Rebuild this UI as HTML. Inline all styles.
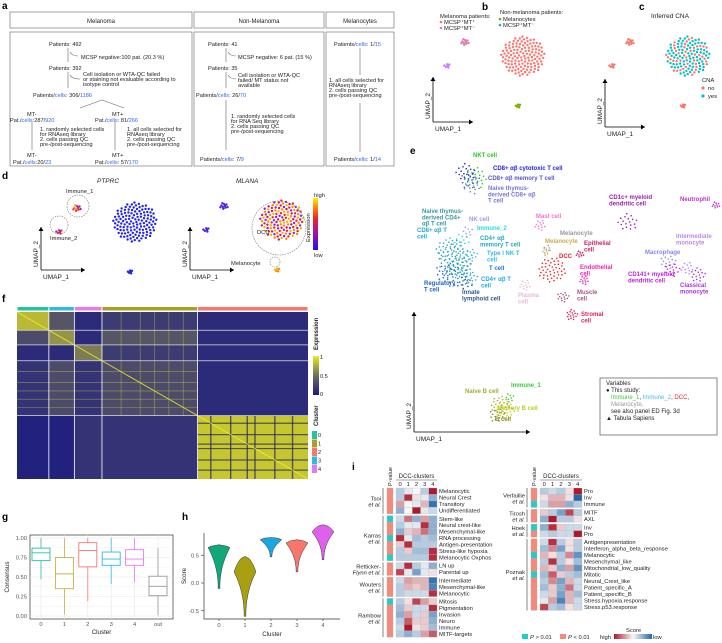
<!DOCTYPE html>
<html><head><meta charset="utf-8">
<style>
html,body{margin:0;padding:0;background:#fff;}
svg{display:block;font-family:"Liberation Sans",Arial,sans-serif;}
.pl{font-weight:bold;font-size:10px;}
.t{font-size:5.6px;fill:#222;}
.b{fill:#3366ee;}
</style></head>
<body>
<svg id="fig" width="722" height="643" viewBox="0 0 722 643" xmlns="http://www.w3.org/2000/svg">
<text class="pl" x="2" y="9">a</text>
<text class="pl" x="482" y="10">b</text>
<text class="pl" x="639" y="10">c</text>
<text class="pl" x="2" y="179">d</text>
<text class="pl" x="410" y="154">e</text>
<text class="pl" x="2" y="302">f</text>
<text class="pl" x="2" y="520">g</text>
<text class="pl" x="182" y="520">h</text>
<text class="pl" x="352" y="470">i</text>

<g fill="none" stroke="#666" stroke-width="0.6">
<rect x="10" y="12" width="182" height="16"/><rect x="194" y="12" width="130" height="16"/><rect x="326" y="12" width="68" height="16"/>
<rect x="10" y="32" width="182" height="134"/><rect x="194" y="32" width="130" height="134"/><rect x="326" y="32" width="68" height="134"/>
<path d="M68 48 V62 M68 72 V88 M102 100 L80 108 M102 100 L124 108 M32 122 V150 M115 122 V150 M226 48 V62 M226 72 V88 M226 100 V150 M360 48 V75 M360 103 V152"/>
<path d="M70 52 Q72 56 78 56 M70 75 Q72 79 80 79 M228 52 Q230 56 236 56 M228 75 Q230 79 236 79"/>
</g>
<g class="t">
<text x="101" y="23" font-size="6" text-anchor="middle">Melanoma</text>
<text x="259" y="23" font-size="6" text-anchor="middle">Non-Melanoma</text>
<text x="360" y="23" font-size="6" text-anchor="middle">Melanocytes</text>
<text x="49" y="46">Patients: 492</text>
<text x="81" y="59">MCSP negative:100 pat. (20.3 %)</text>
<text x="49" y="70">Patients: 392</text>
<text x="83" y="76">Cell isolation or WTA-QC failed</text>
<text x="83" y="81">or staining not evaluable according to</text>
<text x="83" y="86">isotype control</text>
<text x="33" y="97">Patients/<tspan class="b">cells</tspan>: 306/<tspan class="b">1186</tspan></text>
<text x="27" y="116">MT-</text><text x="10" y="122">Pat./<tspan class="b">cells</tspan>:287/<tspan class="b">920</tspan></text>
<text x="112" y="116">MT+</text><text x="95" y="122">Pat./<tspan class="b">cells</tspan>: 81/<tspan class="b">266</tspan></text>
<text x="40" y="131">1. randomly selected cells</text><text x="40" y="136">for RNAseq library</text><text x="40" y="141">2. cells passing QC</text><text x="40" y="146">pre-/post-sequencing</text>
<text x="127" y="131">1. all cells selected for</text><text x="127" y="136">RNAseq library</text><text x="127" y="141">2. cells passing QC</text><text x="127" y="146">pre-/post-sequencing</text>
<text x="27" y="157">MT-</text><text x="13" y="164">Pat./<tspan class="b">cells</tspan>:20/<tspan class="b">23</tspan></text>
<text x="112" y="157">MT+</text><text x="95" y="164">Pat./<tspan class="b">cells</tspan>: 57/<tspan class="b">170</tspan></text>
<text x="208" y="46">Patients: 41</text>
<text x="238" y="59">MCSP negative: 6 pat. (15 %)</text>
<text x="208" y="70">Patients: 35</text>
<text x="238" y="77">Cell isolation or WTA-QC</text><text x="238" y="82">failed/ MT status not</text><text x="238" y="87">available</text>
<text x="196" y="97">Patients/<tspan class="b">cells</tspan>: 26/<tspan class="b">70</tspan></text>
<text x="231" y="118">1. randomly selected cells</text><text x="231" y="123">for RNA Seq library</text><text x="231" y="128">2. cells passing QC</text><text x="231" y="133">pre-/post-sequencing</text>
<text x="200" y="161">Patients/<tspan class="b">cells</tspan>: 7/<tspan class="b">9</tspan></text>
<text x="334" y="46">Patients/<tspan class="b">cells</tspan>: 1/<tspan class="b">15</tspan></text>
<text x="329" y="82">1. all cells selected for</text><text x="329" y="87">RNAseq library</text><text x="329" y="92">2. cells passing QC</text><text x="329" y="97">pre-/post-sequencing</text>
<text x="334" y="161">Patients/<tspan class="b">cells</tspan>: 1/<tspan class="b">14</tspan></text>
</g>
<g id="dyn"></g>
</svg>
<script>
const umapClusters=[["main",0,0,22,130],["immune1",-58,-14,4,10],["immune2",-76,10,3,6],["melanocyte",-5,50,2.5,6]];
const colorsB=[["#f8766d"],["#f8766d","#c77cff"],["#c77cff"],["#7cae00"]];
const colorsC=[["#00bfc4","#f8766d","#00bfc4"],["#f8766d"],["#f8766d"],["#f8766d"]];
const colorsPTPRC=[["#2222ee"],["#ee3333","#ff9922","#9922cc"],["#9922cc","#ee3333"],["#2222ee"]];
const colorsMLANA=[["#ee2222","#ff8800","#8822cc","#ffaa00","#cc1166"],["#5522dd"],["#5522dd"],["#ffbb00","#ff8800"]];
const gCats=["0","1","2","3","4","out"];
const gMin=[0.47,0.02,0.19,0.41,0.43,0.01];
const gQ1=[0.71,0.35,0.63,0.65,0.65,0.26];
const gMed=[0.81,0.54,0.84,0.73,0.73,0.38];
const gQ3=[0.87,0.75,0.94,0.82,0.85,0.51];
const gMax=[1.0,1.0,1.0,1.0,1.0,0.87];
const gTicks=[0,0.25,0.5,0.75,1.0];
const gTickLabels=["0.00","0.25","0.50","0.75","1.00"];
const hCats=["0","1","2","3","4"];
const hMin=[-0.1,-0.6,0.47,0.2,0.42];
const hMax=[0.69,0.48,0.82,0.78,1.05];
const hMode=[0.64,0.2,0.78,0.72,0.92];
const hTicks=[-0.5,0,0.5];
const fOrder=["0","3","4","1","2"];
const fSizes=[15,12,13,45,52];
const fBlock=[[0.8,0.35,0.1,0.2,0.1],[0.3,0.65,0.1,0.35,0.1],[0.1,0.1,0.55,0.2,0.1],[0.15,0.3,0.15,0.3,0.1],[0.05,0.05,0.15,0.15,0.85]];
const iLeftGroups=["Tsoi|et al.","Karras|et al.","Retticker-|Flynn et al.","Wouters|et al.","Rambow|et al."];
const iLeftGroupSizes=[4,7,2,3,6];
const iLeftRows=["Melanocytic","Neural Crest","Transitory","Undifferentiated","Stem-like","Neural crest-like","Mesenchymal-like","RNA processing","Antigen-presentation","Stress-like hypoxia","Melanocytic Oxphos","LN up","Parental up","Intermediate","Mesenchymal-like","Melanocytic","Mitosis","Pigmentation","Invasion","Neuro","Immune","MITF-targets"];
const iLeftVals=[[-0.3,-0.1,0,-0.3,1],[-0.3,0.9,0.1,-0.1,-0.5],[0.4,0,-0.1,0.3,-0.9],[-0.5,0,1,-0.1,-0.2],[-0.2,0.6,-0.5,0.4,-0.5],[-0.3,-0.1,-0.1,0.9,-0.5],[-0.5,0.2,0.3,0.6,-0.5],[0.9,-0.1,-0.4,-0.3,-0.4],[0.2,0.9,-0.3,-0.3,-0.3],[-0.3,0.2,-0.4,-0.4,0.9],[-0.3,-0.3,-0.3,-0.3,0.9],[-0.2,0.9,-0.3,-0.1,-0.5],[0.8,-0.1,-0.6,-0.1,0.1],[-0.2,0.4,0.3,0.3,-0.9],[-0.3,0.3,0.2,0.3,-0.8],[-0.3,-0.2,-0.2,-0.2,0.9],[-0.3,0.1,0.8,0.4,0.2],[-0.4,0.2,-0.2,-0.2,0.9],[-0.5,0.4,-0.2,0.2,-0.6],[-0.3,0.7,0.2,0.2,-0.5],[-0.2,1,0.1,0.2,-0.4],[-0.3,-0.5,-0.3,0.4,0.7]];
const iLeftP=[0,0,0,0,1,0,0,1,0,0,1,0,0,0,0,0,1,0,0,0,0,0];
const iRightGroups=["Verfaillie|et al.","Tirosh|et al.","Hoek|et al.","Poznak|et al."];
const iRightGroupSizes=[3,2,2,11];
const iRightRows=["Pro","Inv","Immune","MITF","AXL","Inv","Pro","Antigenpresentation","Interferon_alpha_beta_response","Melanocytic","Mesenchymal_like","Mitochondrial_low_quality","Mitotic","Neural_Crest_like","Patient_specific_A","Patient_specific_B","Stress.hypoxia.response","Stress.p53.response"];
const iRightVals=[[-0.3,-0.2,-0.3,0.1,1],[0.1,0.3,0.3,0.1,-1],[-0.2,0.4,0.4,-0.5,-0.3],[0.2,-0.3,-0.6,0.8,-0.3],[-0.5,1,-0.3,-0.3,0.1],[-0.5,0.9,0.2,-0.2,-0.2],[-0.2,-0.3,-0.2,-0.2,1],[-0.2,0.9,-0.3,0.1,-0.3],[-0.4,0.5,-0.6,0.1,-0.3],[0.3,0.1,-0.3,0.5,-0.7],[-0.3,0.9,-0.3,0.1,-0.4],[0.3,0.2,-0.5,0.4,-0.7],[-0.4,0.7,0.2,-0.3,-0.4],[-0.3,0.5,-0.6,0.3,-0.2],[-0.4,0.2,-0.5,0.6,-0.2],[-0.2,0.2,-0.6,0.3,-0.4],[-0.1,0.4,-0.8,0.3,-0.2],[0.8,-0.3,-0.4,0.1,-0.2]];
const iRightP=[0,0,1,0,0,1,0,0,0,1,0,0,1,0,0,0,0,0];
const eClusters=[
 [["NKT cell"],"#22cc22",473,157,475,178,12,25],
 [["CD8+ αβ cytotoxic T cell"],"#2222dd",493,170,466,172,10,18],
 [["CD8+ αβ memory T cell"],"#5555cc",488,180,470,180,10,15],
 [["Naive thymus-","derived CD8+ αβ","T cell"],"#7777dd",488,190,472,186,9,12],
 [["Naive thymus-","derived CD4+","αβ T cell"],"#3a9a9a",422,213,455,260,18,50],
 [["NK cell"],"#9999ee",469,221,468,232,6,8],
 [["Immune_2"],"#22dddd",477,230,462,240,8,10],
 [["CD8+ αβ T","cell"],"#22aacc",417,232,450,250,14,40],
 [["CD4+ αβ","memory T cell"],"#22aabb",480,240,460,268,12,30],
 [["Type I NK T","cell"],"#33bbdd",487,255,470,255,8,15],
 [["T cell"],"#2277cc",489,270,455,275,14,30],
 [["CD4+ αβ T","cell"],"#22aadd",481,281,470,278,8,15],
 [["Regulatory","T cell"],"#2266bb",424,285,445,272,10,15],
 [["Innate","lymphoid cell"],"#335588",462,294,465,283,8,10],
 [["Mast cell"],"#ee77cc",536,218,540,225,6,12],
 [["Melanocyte"],"#999999",560,235,548,248,4,5],
 [["Melanocyte"],"#ccaa55",545,243,546,252,4,8],
 [["Epithelial","cell"],"#cc2266",584,245,580,254,4,10],
 [["DCC"],"#ee2222",559,258,552,270,14,45],
 [["Endothelial","cell"],"#ee22aa",580,269,584,280,5,12],
 [["Plasma","cell"],"#e8b8d8",518,297,525,285,6,12],
 [["Muscle","cell"],"#aa5588",577,294,563,297,6,14],
 [["Stromal","cell"],"#dd2255",581,316,572,315,6,16],
 [["CD1c+ myeloid","dendritic cell"],"#9922aa",609,199,628,222,10,18],
 [["Neutrophil"],"#bb33cc",680,201,716,205,4,10],
 [["Intermediate","monocyte"],"#bb88ee",676,238,687,268,7,12],
 [["Macrophage"],"#8888ee",645,254,668,262,8,14],
 [["CD141+ myeloid","dendritic cell"],"#bb22dd",628,276,672,270,8,14],
 [["Classical","monocyte"],"#aa33dd",680,287,698,275,8,16],
 [["Naive B cell"],"#aaaa33",465,393,500,405,10,25],
 [["Immune_1"],"#33cc33",511,387,510,398,5,8],
 [["Memory B cell"],"#bbcc22",497,410,505,410,10,25],
 [["B cell"],"#888822",495,421,497,415,8,15]];

const NS="http://www.w3.org/2000/svg";
const root=document.getElementById('dyn');
function mk(tag,attrs,parent){const e=document.createElementNS(NS,tag);for(const k in attrs)e.setAttribute(k,attrs[k]);(parent||root).appendChild(e);return e;}
function txt(s,x,y,size,fill,parent,anchor){const e=mk('text',{x:x,y:y,'font-size':size,fill:fill||'#222','text-anchor':anchor||'start'},parent);e.textContent=s;return e;}
function sunflower(cx,cy,r,n){const pts=[];for(let i=0;i<n;i++){const rr=r*Math.sqrt((i+0.5)/n);const a=i*2.39996;pts.push([cx+rr*Math.cos(a),cy+rr*Math.sin(a)*0.9]);}return pts;}
function umapArrows(g,x0,y0,w,h){
 mk('path',{d:`M${x0} ${y0} V${y0-h} M${x0} ${y0} H${x0+w}`,stroke:'#000','stroke-width':0.8,fill:'none'},g);
 mk('path',{d:`M${x0-2.5} ${y0-h+4} L${x0} ${y0-h} L${x0+2.5} ${y0-h+4}Z M${x0+w-4} ${y0-2.5} L${x0+w} ${y0} L${x0+w-4} ${y0+2.5}Z`,fill:'#000'},g);
 txt('UMAP_1',x0+2,y0+9,6.5,'#222',g);
 const t=txt('UMAP_2',0,0,6.5,'#222',g);t.setAttribute('transform',`translate(${x0-3},${y0-3}) rotate(-90)`);
}
function drawUmap(name,ox,oy,cols){
 const g=mk('g',{});
 
 
 umapClusters.forEach((c,ci)=>{
  const pts=sunflower(ox+c[1],oy+c[2],c[3],c[4]);
  pts.forEach((p,pi)=>{const cl=cols[ci];const d=mk('circle',{cx:p[0].toFixed(1),cy:p[1].toFixed(1),r:1.2,fill:cl[pi%cl.length]},g);
   
   });
 });
 return g;
}

let gb=drawUmap('umap-panel-b',523,56,colorsB);
umapArrows(gb,433,122,40,45);
txt('Melanoma patients:',440,18,5.8,'#222',gb);txt('Non-melanoma patients:',500,14,5.8,'#222',gb);
[['MCSP⁺MT⁺','#f8766d',444,24],['MCSP⁺MT⁻','#c77cff',444,30],['Melanocytes','#7cae00',503,21],['MCSP⁺MT⁻','#00bfc4',503,27]].forEach(l=>{
 const c=mk('circle',{cx:l[2]-3,cy:l[3]-2,r:1.3,fill:l[1]},gb);
 
 
 txt(l[0],l[2],l[3],5.8,'#222',gb);});

let gc=drawUmap('umap-panel-c',688,56,colorsC);
umapArrows(gc,605,127,40,48);
txt('Inferred CNA',651,18,6.5,'#222',gc);
txt('CNA',702,82,5.8,'#222',gc);
[['no','#f8766d',708,90],['yes','#00bfc4',708,98]].forEach(l=>{const c=mk('circle',{cx:703,cy:l[3]-2,r:1.6,fill:l[1]},gc);
 
 
 txt(l[0],l[2],l[3],5.8,'#222',gc);});

let gd1=drawUmap('umap-ptprc',135,222,colorsPTPRC);
umapArrows(gd1,41,270,44,43);
txt('PTPRC',97,183,6.5,'#222',gd1).setAttribute('font-style','italic');
mk('circle',{cx:78,cy:206,r:11,fill:'none',stroke:'#777','stroke-dasharray':'1.5,1','stroke-width':0.6},gd1);
mk('circle',{cx:59,cy:225,r:9,fill:'none',stroke:'#777','stroke-dasharray':'1.5,1','stroke-width':0.6},gd1);
txt('Immune_1',66,193,5.8,'#222',gd1);txt('Immune_2',50,240,5.8,'#222',gd1);
let gd2=drawUmap('umap-mlana',282,220,colorsMLANA);
umapArrows(gd2,190,270,44,43);
txt('MLANA',236,183,6.5,'#222',gd2).setAttribute('font-style','italic');
mk('circle',{cx:279,cy:228,r:27,fill:'none',stroke:'#777','stroke-dasharray':'1.5,1','stroke-width':0.6},gd2);
mk('circle',{cx:275,cy:262,r:5,fill:'none',stroke:'#777','stroke-dasharray':'1.5,1','stroke-width':0.6},gd2);
txt('DCC',257,234,5.8,'#222',gd2);txt('Melanocyte',231,265,5.8,'#222',gd2);
const defs=mk('defs',{});
const lg=mk('linearGradient',{id:'expr',x1:0,y1:1,x2:0,y2:0},defs);
[['0','#2211ee'],['0.35','#aa11aa'],['0.6','#ee2222'],['0.85','#ff9900'],['1','#ffee00']].forEach(s=>mk('stop',{offset:s[0],'stop-color':s[1]},lg));
const eb=mk('rect',{x:313,y:198,width:5,height:52,fill:'url(#expr)'});


txt('high',314,197,5.8);txt('low',314,257,5.8);
const et=txt('Expression',0,0,5.8);et.setAttribute('transform','translate(310,242) rotate(-90)');

const ge=mk('g',{});


eClusters.forEach(c=>{
 sunflower(c[4],c[5],c[6],c[7]).forEach(p=>{const d=mk('circle',{cx:p[0].toFixed(1),cy:p[1].toFixed(1),r:0.8,fill:c[1]},ge);
  
  });
});
eClusters.forEach(c=>{c[0].forEach((s,k)=>{const t=txt(s,c[2],c[3]+k*6.3,6,c[1],ge);t.setAttribute('font-weight','bold');});});
umapArrows(ge,414,432,116,120);
const lb=mk('rect',{x:600,y:378,width:117,height:57,fill:'#fff',stroke:'#555','stroke-width':0.7},ge);


txt('Variables',606,385,6);
txt('● This study:',606,392,6);
const lt=txt('',611,399,6);lt.innerHTML='<tspan fill="#33cc33">Immune_1</tspan>, <tspan fill="#44bbee">Immune_2</tspan>, <tspan fill="#ee2222">DCC</tspan>,';
txt('Melanocyte,',611,406,6,'#999');txt('see also panel  ED Fig. 3d',611,413,6);txt('▲ Tabula Sapiens',606,420,6);

const gf=mk('g',{});


const fX0=17,fX1=308,fY0=312,fY1=479;
const tot=fSizes.reduce((a,b)=>a+b,0);
const cumF=[0];fSizes.forEach(s=>cumF.push(cumF[cumF.length-1]+s));
const fxs=i=>fX0+(fX1-fX0)*cumF[i]/tot, fys=i=>fY0+(fY1-fY0)*cumF[i]/tot;
function fcol(v){const a=[26,26,130],m=[110,110,90],b=[235,235,30];let c;if(v<0.5){const t=v/0.5;c=a.map((x,i)=>x+(m[i]-x)*t);}else{const t=(v-0.5)/0.5;c=m.map((x,i)=>x+(b[i]-x)*t);}return `rgb(${c.map(Math.round).join(',')})`;}
const clusterColor={"0":"#20c69a","1":"#a8a020","2":"#f8766d","3":"#30b8e8","4":"#e878f0"};
for(let r=0;r<5;r++)for(let c=0;c<5;c++){
 const cell=mk('rect',{x:fxs(c),y:fys(r),width:fxs(c+1)-fxs(c),height:fys(r+1)-fys(r),fill:fcol(fBlock[r][c])},gf);
 
 
}
// texture stripes in large block (cluster 2) and cluster 1 rows
[0.12,0.3,0.45,0.52,0.7,0.86].forEach(f=>{
 const x=fxs(4)+(fxs(5)-fxs(4))*f, y=fys(4)+(fys(5)-fys(4))*f;
 mk('line',{x1:x,x2:x,y1:fys(4),y2:fys(5),stroke:'#22226a','stroke-width':1.4,opacity:0.7},gf);
 mk('line',{x1:fxs(4),x2:fxs(5),y1:y,y2:y,stroke:'#22226a','stroke-width':1.2,opacity:0.7},gf);
});
[0.2,0.4,0.55,0.7,0.85].forEach(f=>{
 const x=fxs(3)+(fxs(4)-fxs(3))*f, y=fys(3)+(fys(4)-fys(3))*f;
 mk('line',{x1:x,x2:x,y1:fys(0),y2:fys(4),stroke:'#cccc44','stroke-width':0.6,opacity:0.6},gf);
 mk('line',{x1:fxs(0),x2:fxs(4),y1:y,y2:y,stroke:'#cccc44','stroke-width':0.6,opacity:0.6},gf);
});
for(let c=0;c<5;c++){const bar=mk('rect',{x:fxs(c)+0.5,y:307,width:fxs(c+1)-fxs(c)-1,height:3.5,fill:clusterColor[fOrder[c]]},gf);
 
 }
mk('line',{x1:fX0,y1:fY0,x2:fX1,y2:fY1,stroke:'#eeee22','stroke-width':0.8},gf);
for(let i=1;i<5;i++){mk('line',{x1:fxs(i),y1:fY0,x2:fxs(i),y2:fY1,stroke:'#fff','stroke-width':0.8},gf);mk('line',{x1:fX0,y1:fys(i),x2:fX1,y2:fys(i),stroke:'#ddd','stroke-width':0.8},gf);}
const lg2=mk('linearGradient',{id:'cons',x1:0,y1:1,x2:0,y2:0},defs);
[['0',fcol(0)],['0.5',fcol(0.5)],['1',fcol(1)]].forEach(s=>mk('stop',{offset:s[0],'stop-color':s[1]},lg2));
const cb=mk('rect',{x:313,y:356,width:6,height:39,fill:'url(#cons)'},gf);


txt('1',320,359,5.6);txt('0.5',320,378,5.6);txt('0',320,396,5.6);
const ft=txt('Expression',0,0,6);ft.setAttribute('transform','translate(318,350) rotate(-90)');ft.setAttribute('font-weight','bold');
const ct=txt('Cluster',0,0,6);ct.setAttribute('transform','translate(318,426) rotate(-90)');ct.setAttribute('font-weight','bold');
["0","1","2","3","4"].forEach((k,i)=>{const r=mk('rect',{x:312,y:431+i*8.5,width:5,height:8,fill:clusterColor[k]});
 
 
 txt(k,318,437+i*8.5,5.6);});

const gg=mk('g',{});


const gx0=30,gx1=173,gy0=535,gy1=619;
const gy=v=>616-v*78, gxp=i=>41+i*23.4;
mk('rect',{x:gx0,y:gy0,width:gx1-gx0,height:gy1-gy0,fill:'#fff',stroke:'#333','stroke-width':0.7},gg);
for(let v=0;v<=1.0001;v+=0.125)mk('line',{x1:gx0,x2:gx1,y1:gy(v),y2:gy(v),stroke:'#e6e6e6','stroke-width':v*8%2==0?0.6:0.3},gg);
gCats.forEach((c,i)=>mk('line',{x1:gxp(i),x2:gxp(i),y1:gy0,y2:gy1,stroke:'#e6e6e6','stroke-width':0.6},gg));
gTicks.forEach((v,i)=>{txt(gTickLabels[i],27,gy(v)+2,5.8,'#555',gg,'end');});
const boxCols=["#20c69a","#c8b040","#f8766d","#30b8e8","#e878f0","#999999"];
gCats.forEach((c,i)=>{const x=gxp(i),w=18,col=boxCols[i];
 const wh=mk('path',{d:`M${x} ${gy(gMax[i])} V${gy(gQ3[i])} M${x} ${gy(gQ1[i])} V${gy(gMin[i])}`,stroke:col,'stroke-width':0.8},gg);
 
 
 const bx=mk('rect',{x:x-w/2,y:gy(gQ3[i]),width:w,height:gy(gQ1[i])-gy(gQ3[i]),fill:'#fff',stroke:col,'stroke-width':0.9},gg);
 
 
 mk('line',{x1:x-w/2,x2:x+w/2,y1:gy(gMed[i]),y2:gy(gMed[i]),stroke:col,'stroke-width':0.9},gg);
 txt(c,x,gy1+7,5.8,'#555',gg,'middle');});
txt('Cluster',(gx0+gx1)/2,gy1+15,6.2,'#222',gg,'middle');
const gyt=txt('Consensus',0,0,6.2,'#222',gg,'middle');gyt.setAttribute('transform',`translate(9,${(gy0+gy1)/2}) rotate(-90)`);

const gh=mk('g',{});


const hy=v=>583-v*55.5, hxp=i=>219+i*26;
mk('path',{d:'M204 533 V619 H340',stroke:'#333','stroke-width':0.7,fill:'none'},gh);
hTicks.forEach(v=>{mk('line',{x1:201,x2:204,y1:hy(v),y2:hy(v),stroke:'#333','stroke-width':0.6},gh);txt(v.toFixed(1),199,hy(v)+2,5.8,'#555',gh,'end');});
const vCols=["#10a878","#a8a010","#1aa7e0","#f8766d","#e060ee"];
hCats.forEach((c,i)=>{const x=hxp(i);const lo=hMin[i],hi=hMax[i],mo=hMode[i];const W=11;const L=[],R=[];
 for(let k=0;k<=30;k++){const v=lo+(hi-lo)*k/30;let w;
  if(v<=mo){const t=(v-lo)/(mo-lo);w=W*(0.08+0.92*Math.pow(t,2.2));}else{const t=(hi-v)/(hi-mo);w=W*Math.sqrt(Math.max(0,t));}
  L.push(`${(x-w).toFixed(1)},${hy(v).toFixed(1)}`);R.unshift(`${(x+w).toFixed(1)},${hy(v).toFixed(1)}`);}
 const p=mk('polygon',{points:L.concat(R).join(' '),fill:vCols[i],stroke:'#333','stroke-width':0.5},gh);
 
 
 mk('line',{x1:x,x2:x,y1:619,y2:621,stroke:'#333','stroke-width':0.6},gh);
 txt(c,x,627,5.8,'#555',gh,'middle');});
txt('Cluster',272,636,6.2,'#222',gh,'middle');
const hyt=txt('Score',0,0,6.2,'#222',gh,'middle');hyt.setAttribute('transform','translate(186,576) rotate(-90)');

function scoreCol(v){const w=[247,247,247],r=[178,24,43],b=[33,102,172];const t=Math.min(1,Math.abs(v));const e=v>0?r:b;return `rgb(${w.map((x,i)=>Math.round(x+(e[i]-x)*t)).join(',')})`;}
function heat(name,px,cx,cw,y0,rh,gap,groups,sizes,rows,vals,pv,labX){
 const g=mk('g',{});
 
 
 const pt=txt('P-value',0,0,5.6,'#222',g);pt.setAttribute('transform',`translate(${px+5},${y0-2}) rotate(-90)`);
 txt('DCC-clusters',cx+cw*2.5,y0-10,6,'#222',g,'middle');
 mk('line',{x1:cx,x2:cx+cw*5,y1:y0-8,y2:y0-8,stroke:'#888','stroke-width':0.8},g);
 for(let c=0;c<5;c++)txt(String(c),cx+cw*(c+0.5),y0-2,5.8,'#222',g,'middle');
 let y=y0,r=0;
 groups.forEach((gn,gi)=>{const gy0=y;
  for(let k=0;k<sizes[gi];k++,r++){
   const pc=mk('rect',{x:px,y:y,width:6,height:rh,fill:pv[r]?'#22cccc':'#f88878',stroke:'#aaa','stroke-width':0.3},g);
   
   
   for(let c=0;c<5;c++){const hc=mk('rect',{x:cx+cw*c,y:y,width:cw,height:rh,fill:scoreCol(vals[r][c]),stroke:'#bbb','stroke-width':0.3},g);
    
    }
   txt(rows[r],labX,y+rh-1.3,5.8,'#222',g);
   y+=rh;}
  mk('line',{x1:px-4,x2:px-4,y1:gy0,y2:y,stroke:'#333','stroke-width':0.6},g);
  const parts=gn.split('|');const mid=(gy0+y)/2;
  txt(parts[0],px-6,mid-0.5,5.8,'#222',g,'end');
  const t2=txt(parts[1],px-6,mid+5.5,5.8,'#222',g,'end');t2.setAttribute('font-style','italic');
  y+=gap;});
}
heat('score-heatmap-left',387,396,8.2,488,6.45,1.8,iLeftGroups,iLeftGroupSizes,iLeftRows,iLeftVals,iLeftP,439);
heat('score-heatmap-right',531,540,8.4,488,6.5,1.8,iRightGroups,iRightGroupSizes,iRightRows,iRightVals,iRightP,584);
const lg3=mk('linearGradient',{id:'score',x1:0,y1:0,x2:1,y2:0},defs);
[['0',scoreCol(1)],['0.5',scoreCol(0)],['1',scoreCol(-1)]].forEach(s=>mk('stop',{offset:s[0],'stop-color':s[1]},lg3));
const pl1=mk('rect',{x:522,y:634,width:6,height:5,fill:'#22cccc'});


const pl2=mk('rect',{x:560,y:634,width:6,height:5,fill:'#f88878'});


const ptx1=txt('',530,639,5.8);ptx1.innerHTML='<tspan font-style="italic">P</tspan> &gt; 0.01';
const ptx2=txt('',568,639,5.8);ptx2.innerHTML='<tspan font-style="italic">P</tspan> &lt; 0.01';
txt('high',600,639,5.8);txt('Score',626,632,5.8);
const sg=mk('rect',{x:614,y:634,width:38,height:5,fill:'url(#score)'});


txt('low',653,639,5.8);
</script>
</body></html>
